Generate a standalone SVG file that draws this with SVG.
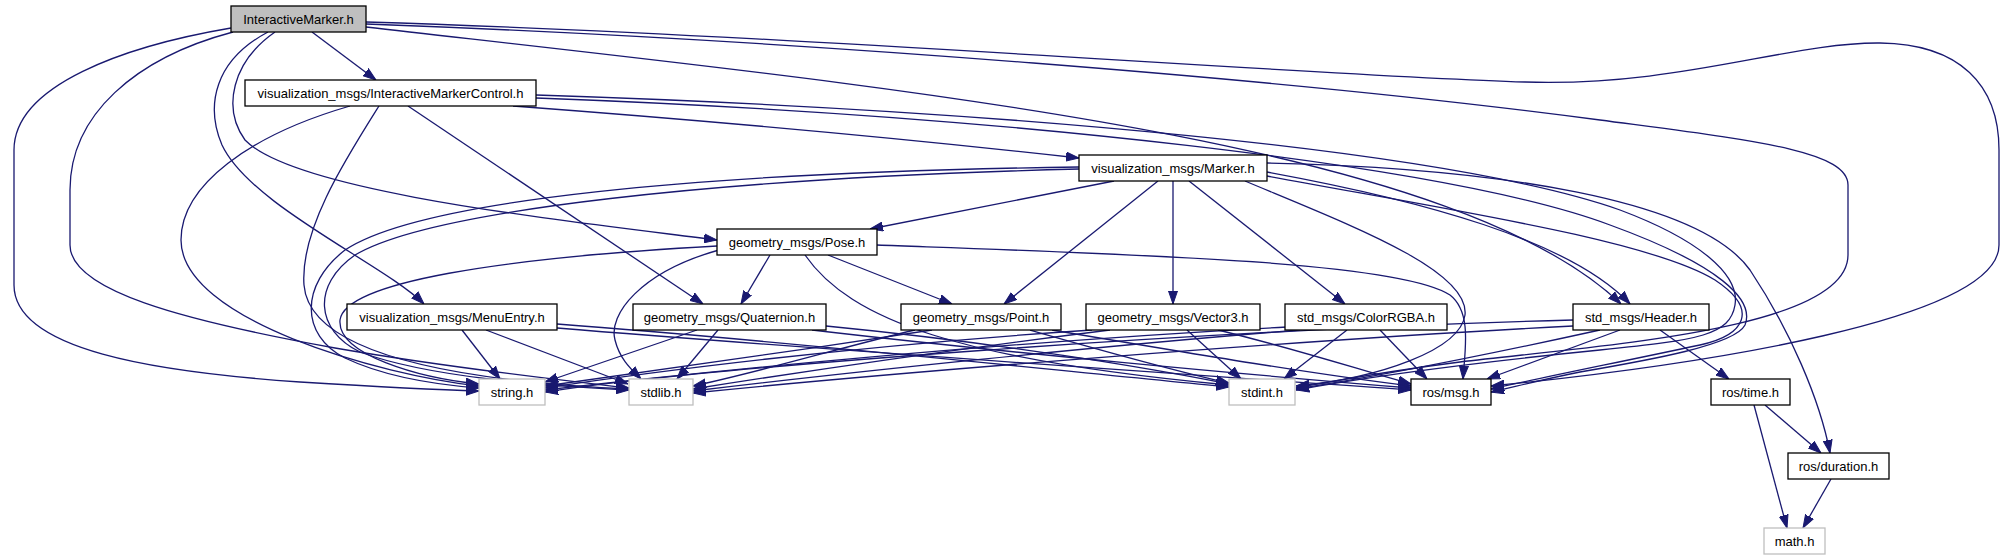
<svg xmlns="http://www.w3.org/2000/svg" width="2005" height="560" viewBox="0 0 2005 560">
<defs>
<marker id="a" viewBox="0 0 13 10" refX="13" refY="5" markerWidth="13" markerHeight="10" markerUnits="userSpaceOnUse" orient="auto"><path d="M0,0.5 L13,5 L0,9.5 z" fill="#191970" stroke="#191970" stroke-width="1"/></marker>
</defs>
<style>
.e path{fill:none;stroke:#191970;stroke-width:1.3;marker-end:url(#a)}
.n rect{fill:#fff;stroke:#000;stroke-width:1.3}
.n.g rect{stroke:#bfbfbf}
.n.r rect{fill:#bfbfbf}
text{font-family:"Liberation Sans",Arial,sans-serif;font-size:13px;text-anchor:middle;fill:#000}
</style>
<rect width="2005" height="560" fill="#fff"/>
<g id="edges" class="e">
<path d="M231,28 C125,46 14,85 14,150 L14,285 C14,350 155,372 300,382 C380,387 440,390 479,391"/>
<path d="M233,32 C135,58 70,115 70,190 L70,245 C70,290 180,320 335,348 C450,368 560,380 629,388"/>
<path d="M312,32 L376,80"/>
<path d="M268,32 C215,60 205,105 222,145 C250,205 385,265 424,304"/>
<path d="M275,32 C232,62 222,108 245,140 C295,192 560,220 717,240"/>
<path d="M366,27 C900,88 1450,140 1621,304"/>
<path d="M366,24 C800,40 1300,80 1600,120 C1750,140 1848,150 1848,185 L1848,255 C1848,330 1600,345 1460,362 C1380,372 1330,382 1296,388"/>
<path d="M366,22 C800,35 1300,75 1525,82 C1680,87 1790,42 1880,43 C1960,44 1999,85 1999,150 L1999,245 C1999,320 1700,365 1491,386"/>
<path d="M350,106 C250,135 181,185 181,240 C181,320 380,375 479,386"/>
<path d="M379,106 C345,160 300,230 304,285 C310,360 480,382 629,389"/>
<path d="M408,106 L703,304"/>
<path d="M513,106 C700,120 900,138 1079,158"/>
<path d="M536,95 C1000,110 1450,150 1620,210 C1700,240 1740,275 1735,305 C1730,335 1700,340 1600,350 C1450,365 1350,380 1296,390"/>
<path d="M536,98 C1000,115 1450,165 1610,225 C1720,265 1755,300 1745,325 C1735,345 1650,360 1580,372 C1540,380 1510,388 1491,392"/>
<path d="M1114,181 L870,229"/>
<path d="M1158,181 L1004,304"/>
<path d="M1173,181 L1173,304"/>
<path d="M1189,181 L1345,304"/>
<path d="M1267,172 C1420,200 1570,240 1630,304"/>
<path d="M1267,163 C1500,168 1700,200 1750,270 C1790,330 1820,400 1830,453"/>
<path d="M1079,167 C700,172 420,200 345,250 C300,285 300,335 345,358 C385,377 440,385 479,388"/>
<path d="M1079,169 C720,178 430,210 355,255 C312,285 315,330 360,352 C430,378 550,386 629,390"/>
<path d="M1245,181 C1350,225 1470,270 1465,315 C1460,350 1380,378 1296,386"/>
<path d="M1267,176 C1450,210 1650,240 1715,280 C1760,310 1745,335 1700,345 C1620,362 1540,378 1491,389"/>
<path d="M770,255 L741,304"/>
<path d="M828,255 L952,304"/>
<path d="M719,250 C640,272 608,315 615,340 C620,360 632,370 641,379"/>
<path d="M717,246 C500,258 345,282 340,320 C337,355 420,378 479,384"/>
<path d="M805,255 C850,320 960,360 1229,385"/>
<path d="M877,245 C1150,255 1400,262 1450,295 C1472,312 1465,350 1463,379"/>
<path d="M462,330 L500,379"/>
<path d="M486,330 L628,384"/>
<path d="M557,324 C800,342 1050,370 1229,387"/>
<path d="M557,328 C850,352 1200,375 1411,390"/>
<path d="M697,330 L545,382"/>
<path d="M718,330 L677,379"/>
<path d="M826,326 C1000,343 1150,368 1229,384"/>
<path d="M812,330 C1000,352 1250,375 1411,388"/>
<path d="M932,330 C800,350 650,372 545,386"/>
<path d="M915,330 C850,345 760,372 693,386"/>
<path d="M1030,330 C1100,350 1180,372 1229,383"/>
<path d="M1052,330 C1200,355 1320,375 1411,386"/>
<path d="M1092,330 C850,346 650,372 545,388"/>
<path d="M1110,330 C950,350 800,372 693,389"/>
<path d="M1187,330 L1241,379"/>
<path d="M1218,330 C1300,350 1360,370 1411,384"/>
<path d="M1287,327 C1000,342 700,372 545,390"/>
<path d="M1300,330 C1100,346 850,372 693,391"/>
<path d="M1347,330 L1284,379"/>
<path d="M1380,330 L1427,379"/>
<path d="M1573,320 C1200,330 700,368 545,392"/>
<path d="M1573,326 C1300,340 900,372 693,393"/>
<path d="M1600,330 C1500,352 1380,376 1296,389"/>
<path d="M1620,330 L1487,379"/>
<path d="M1660,330 L1729,379"/>
<path d="M1765,405 L1821,453"/>
<path d="M1754,405 L1787,528"/>
<path d="M1831,479 L1803,528"/>
</g>
<g id="n1" class="n r"><rect x="231" y="6" width="135" height="26"/><text x="298.5" y="23.5">InteractiveMarker.h</text></g>
<g id="n2" class="n"><rect x="245" y="80" width="291" height="26"/><text x="390.5" y="97.5">visualization_msgs/InteractiveMarkerControl.h</text></g>
<g id="n3" class="n"><rect x="1079" y="155" width="188" height="26"/><text x="1173" y="172.5">visualization_msgs/Marker.h</text></g>
<g id="n4" class="n"><rect x="717" y="229" width="160" height="26"/><text x="797" y="246.5">geometry_msgs/Pose.h</text></g>
<g id="n5" class="n"><rect x="347" y="304" width="210" height="26"/><text x="452" y="321.5">visualization_msgs/MenuEntry.h</text></g>
<g id="n6" class="n"><rect x="633" y="304" width="193" height="26"/><text x="729.5" y="321.5">geometry_msgs/Quaternion.h</text></g>
<g id="n7" class="n"><rect x="901" y="304" width="160" height="26"/><text x="981" y="321.5">geometry_msgs/Point.h</text></g>
<g id="n8" class="n"><rect x="1086" y="304" width="174" height="26"/><text x="1173" y="321.5">geometry_msgs/Vector3.h</text></g>
<g id="n9" class="n"><rect x="1285" y="304" width="162" height="26"/><text x="1366" y="321.5">std_msgs/ColorRGBA.h</text></g>
<g id="n10" class="n"><rect x="1573" y="304" width="136" height="26"/><text x="1641" y="321.5">std_msgs/Header.h</text></g>
<g id="n11" class="n g"><rect x="479" y="379" width="66" height="26"/><text x="512" y="396.5">string.h</text></g>
<g id="n12" class="n g"><rect x="629" y="379" width="64" height="26"/><text x="661" y="396.5">stdlib.h</text></g>
<g id="n13" class="n g"><rect x="1229" y="379" width="66" height="26"/><text x="1262" y="396.5">stdint.h</text></g>
<g id="n14" class="n"><rect x="1411" y="379" width="80" height="26"/><text x="1451" y="396.5">ros/msg.h</text></g>
<g id="n15" class="n"><rect x="1711" y="379" width="79" height="26"/><text x="1750.5" y="396.5">ros/time.h</text></g>
<g id="n16" class="n"><rect x="1788" y="453" width="101" height="26"/><text x="1838.5" y="470.5">ros/duration.h</text></g>
<g id="n17" class="n g"><rect x="1764" y="528" width="61" height="26"/><text x="1794.5" y="545.5">math.h</text></g>
</svg>
